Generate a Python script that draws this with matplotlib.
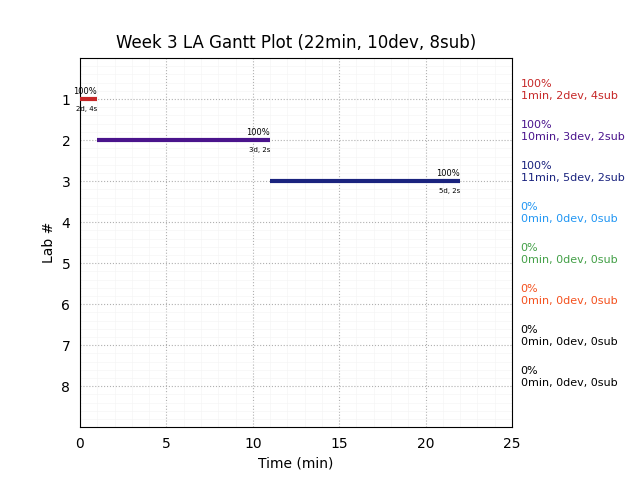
import matplotlib
matplotlib.use("Agg")
import matplotlib.pyplot as plt
from matplotlib.ticker import MultipleLocator

labs = [1, 2, 3, 4, 5, 6, 7, 8]
starts = [0, 1, 11, 0, 0, 0, 0, 0]
durations = [1, 10, 11, 0, 0, 0, 0, 0]
devs = [2, 3, 5, 0, 0, 0, 0, 0]
subs = [4, 2, 2, 0, 0, 0, 0, 0]
pcts = [100, 100, 100, 0, 0, 0, 0, 0]
colors = ['#c62828', '#4a148c', '#1a237e', '#2196f3', '#43a047', '#f4511e', '#000000', '#000000']

fig = plt.figure(figsize=(6.4, 4.8), dpi=100)
ax = fig.add_axes([0.125, 0.11, 0.675, 0.769])

for i in range(len(labs)):
    if durations[i] > 0:
        end = starts[i] + durations[i]
        ax.plot([starts[i], end], [labs[i], labs[i]], color=colors[i], lw=3, solid_capstyle='butt', zorder=3)
        ax.text(end, labs[i] - 0.07, f"{pcts[i]}%", ha='right', va='bottom', fontsize=6)
        ax.text(end, labs[i] + 0.16, f"{devs[i]}d, {subs[i]}s", ha='right', va='top', fontsize=5)
    ax.text(25.5, labs[i] + 0.05, f"{pcts[i]}%\n{durations[i]}min, {devs[i]}dev, {subs[i]}sub",
            color=colors[i], fontsize=8, ha='left', va='bottom', clip_on=False, linespacing=1.3)

ax.set_xlim(0, 25)
ax.set_ylim(9, 0)
ax.set_yticks(labs)
ax.xaxis.set_minor_locator(MultipleLocator(1))
ax.yaxis.set_minor_locator(MultipleLocator(0.2))
ax.grid(which='major', color='#b0b0b0', linestyle=':', lw=0.8)
ax.grid(which='minor', color='#f5f5f5', linestyle='-', lw=0.5)
ax.tick_params(which='both', length=0, labelsize=10, pad=7)
ax.set_axisbelow(True)

ax.set_title("Week 3 LA Gantt Plot (22min, 10dev, 8sub)", fontsize=12, pad=7)
ax.set_xlabel("Time (min)")
ax.set_ylabel("Lab #")

fig.savefig("out.png", dpi=100)
